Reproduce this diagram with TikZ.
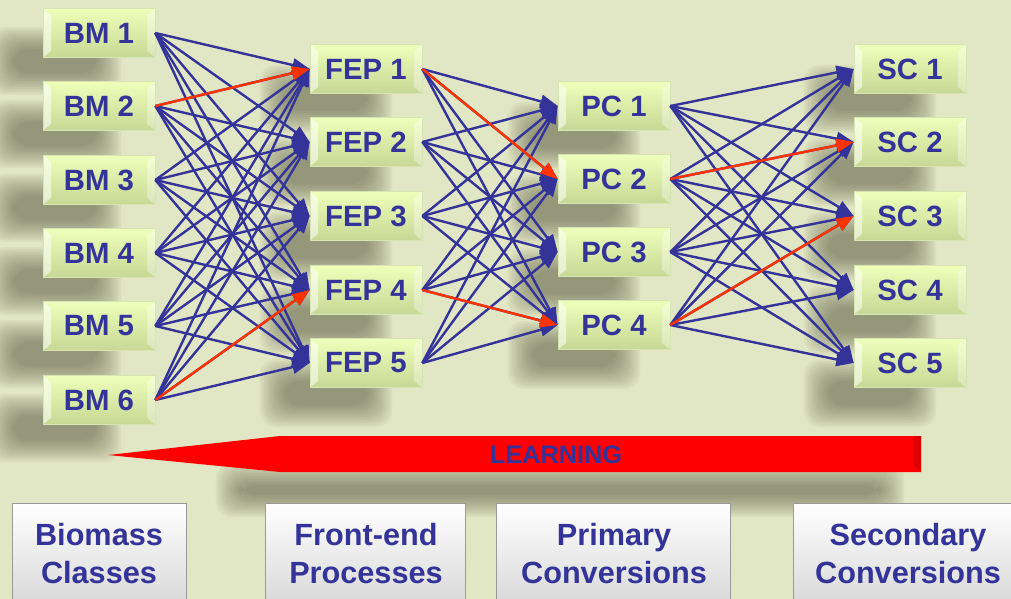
\documentclass[tikz,border=0pt]{standalone}
\usepackage{fontspec}
\setmainfont{Liberation Sans}
\usetikzlibrary{arrows.meta}
\definecolor{bg}{RGB}{225,230,196}
\definecolor{nblue}{RGB}{51,51,153}
\definecolor{lred}{RGB}{255,51,0}
\definecolor{gtop}{RGB}{238,255,186}
\definecolor{gbot}{RGB}{198,216,148}
\definecolor{shd}{RGB}{70,72,45}
\newcommand\softshadow[4]{% cx cy halfw halfh
  \foreach \k in {0,...,11}{
    \fill[shd,opacity=0.05,rounded corners=12pt]
      (#1-#3-\k*2.2,#2-#4-\k*2) rectangle (#1+#3+\k*2.2,#2+#4+\k*2);
  }}
\tikzset{
  bevel/.style={path picture={
    \fill[white,opacity=0.55] (path picture bounding box.north west) -- ++(6pt,-5pt) -- ([xshift=6pt,yshift=5pt]path picture bounding box.south west) -- (path picture bounding box.south west) -- cycle;
    \fill[white,opacity=0.35] (path picture bounding box.north east) -- ++(-6pt,-5pt) -- ([xshift=-6pt,yshift=5pt]path picture bounding box.south east) -- (path picture bounding box.south east) -- cycle;
  }},
  box/.style={rectangle, minimum width=84pt, minimum height=36.75pt, inner sep=0pt,
    top color=gtop, bottom color=gbot, draw=gbot!70!white, line width=0.5pt,
    text=nblue, font=\bfseries\fontsize{22}{24}\selectfont, bevel},
  cat/.style={rectangle, inner sep=0pt, top color=white, bottom color=black!18, draw=black!40, line width=0.6pt},
  cattext/.style={text=nblue, align=center, font=\bfseries\fontsize{23}{28.5}\selectfont},
  link/.style={draw=nblue, line width=1.8pt, -{Triangle[length=13pt,width=10pt]}},
  hot/.style={draw=lred, line width=1.8pt, -{Triangle[length=13pt,width=10pt]}},
}
\begin{document}
\begin{tikzpicture}[x=0.75pt,y=-0.75pt]
\useasboundingbox (0,0) rectangle (1011,599);
\clip (0,0) rectangle (1011,599);
\fill[bg] (0,0) rectangle (1011,599);
% shadows
\foreach \y in {33,106,180,253,326,400} \softshadow{55}{\y+28}{42}{12};
\foreach \y in {69,142,216,290,363} \softshadow{326}{\y+30}{42}{12};
\foreach \y in {106,179,252,325} \softshadow{574}{\y+30}{42}{12};
\foreach \y in {69,142,216,290,363} \softshadow{870}{\y+30}{42}{12};
\softshadow{560}{490}{320}{5}
% learning arrow
\fill[red] (108,455) -- (280,436) -- (921,436) -- (921,472) -- (280,472) -- cycle;
\fill[black,opacity=0.12] (914,436) -- (921,436) -- (921,472) -- (914,466) -- cycle;
\node[text=nblue, font=\bfseries\fontsize{19}{21}\selectfont] (learn) at (556,455) {LEARNING};
% boxes
\foreach \i/\y in {1/33,2/106,3/180,4/253,5/326,6/400}
  \node[box] (BM\i) at (99,\y) {BM \i};
\foreach \i/\y in {1/69,2/142,3/216,4/290,5/363}
  \node[box] (FEP\i) at (366,\y) {FEP \i};
\foreach \i/\y in {1/106,2/179,3/252,4/325}
  \node[box] (PC\i) at (614,\y) {PC \i};
\foreach \i/\y in {1/69,2/142,3/216,4/290,5/363}
  \node[box] (SC\i) at (910,\y) {SC \i};
% links
\foreach \a in {1,...,6}
  \foreach \b in {1,...,5}
    \draw[link] (BM\a.east) -- (FEP\b.west);
\foreach \a in {1,...,5}
  \foreach \b in {1,...,4}
    \draw[link] (FEP\a.east) -- (PC\b.west);
\foreach \a in {1,...,4}
  \foreach \b in {1,...,5}
    \draw[link] (PC\a.east) -- (SC\b.west);
\draw[hot] (BM2.east) -- (FEP1.west);
\draw[hot] (BM6.east) -- (FEP4.west);
\draw[hot] (FEP1.east) -- (PC2.west);
\draw[hot] (FEP4.east) -- (PC4.west);
\draw[hot] (PC2.east) -- (SC2.west);
\draw[hot] (PC4.east) -- (SC3.west);
% category boxes
\node[cat, minimum width=130.5pt, minimum height=90pt, anchor=north] (c1) at (99,503) {};
\node[cattext] (t1) at (99,554) {Biomass\\Classes};
\node[cat, minimum width=150pt, minimum height=90pt, anchor=north] (c2) at (365,503) {};
\node[cattext] (t2) at (366,554) {Front-end\\Processes};
\node[cat, minimum width=176pt, minimum height=90pt, anchor=north] (c3) at (613.5,503) {};
\node[cattext] (t3) at (614,554) {Primary\\Conversions};
\node[cat, minimum width=168pt, minimum height=90pt, anchor=north] (c4) at (905,503) {};
\node[cattext] (t4) at (908,554) {Secondary\\Conversions};
\end{tikzpicture}
\end{document}
